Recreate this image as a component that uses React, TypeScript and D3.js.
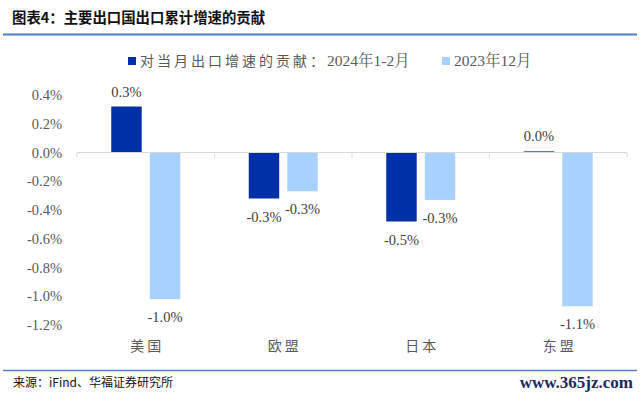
import React, { useEffect, useRef } from 'react'
import * as d3 from 'd3'

const categories = ['美国', '欧盟', '日本', '东盟']
const seriesCjk = ['对当月出口增速的贡献：', '']
const seriesRest = ['2024年1-2月', '2023年12月']
const janFeb2024 = [0.32, -0.32, -0.48, 0.008]
const dec2023 = [-1.02, -0.27, -0.33, -1.07]
const yTicks = [0.4, 0.2, 0.0, -0.2, -0.4, -0.6, -0.8, -1.0, -1.2]
const colors = ['#0030A8', '#A9D1FF']

const W = 640
const H = 396
const serif = '"Liberation Serif", "Noto Serif CJK SC", "Noto Sans CJK SC", serif'
const cjk = '"Noto Sans CJK SC", sans-serif'

const pct = (v: number) => d3.format('.1%')(v / 100).replace('−', '-')

const App: React.FC = () => {
    const svgRef = useRef<SVGSVGElement>(null)

    useEffect(() => {
        if (!svgRef.current) return
        const svg = d3.select(svgRef.current)
        svg.selectAll('*').remove()

        svg.append('rect').attr('width', W).attr('height', H).attr('fill', '#fff')

        // header
        svg.append('text')
            .attr('x', 12).attr('y', 23)
            .style('font-family', cjk).style('font-size', '14.4px').style('font-weight', 'bold')
            .style('fill', '#111')
            .text('图表4：主要出口国出口累计增速的贡献')
        svg.append('line').attr('x1', 3).attr('x2', 637).attr('y1', 34.5).attr('y2', 34.5)
            .attr('stroke', '#4F7CC2').attr('stroke-width', 2)

        const y = d3.scaleLinear().domain([-1.2, 0.4]).range([325, 95])
        const x0 = d3.scaleBand<string>().domain(categories).range([77, 627])
        const groupW = 69
        const x1 = d3.scaleBand<number>().domain([0, 1]).range([0, groupW]).paddingInner(0.21)
        const off = (x0.bandwidth() - groupW) / 2

        // y tick labels
        svg.append('g').selectAll('text')
            .data(yTicks).enter().append('text')
            .attr('x', 62).attr('y', d => y(d))
            .attr('dy', '0.35em')
            .style('text-anchor', 'end')
            .style('font-family', serif).style('font-size', '14.5px').style('fill', '#595959')
            .text(d => pct(d))

        const series = [janFeb2024, dec2023]
        series.forEach((vals, si) => {
            const g = svg.append('g')
            g.selectAll('rect')
                .data(vals).enter().append('rect')
                .attr('x', (d, i) => (x0(categories[i]) as number) + off + (x1(si) as number))
                .attr('width', x1.bandwidth())
                .attr('y', d => y(Math.max(0, d)))
                .attr('height', d => Math.abs(y(d) - y(0)))
                .attr('fill', colors[si])
            g.selectAll('text')
                .data(vals).enter().append('text')
                .attr('x', (d, i) => (x0(categories[i]) as number) + off + (x1(si) as number) + x1.bandwidth() / 2)
                .attr('y', d => d >= 0 ? y(d) - 10 : y(d) + 23)
                .style('text-anchor', 'middle')
                .style('font-family', serif).style('font-size', '14.5px').style('fill', '#404040')
                .text(d => pct(d))
        })

        // zero axis with category ticks
        svg.append('line').attr('x1', 77).attr('x2', 627).attr('y1', y(0)).attr('y2', y(0))
            .attr('stroke', '#D9D9D9').attr('stroke-width', 1)
        const bounds = categories.map(c => x0(c) as number).concat([627])
        svg.append('g').selectAll('line')
            .data(bounds).enter().append('line')
            .attr('x1', d => d).attr('x2', d => d)
            .attr('y1', y(0)).attr('y2', y(0) + 5)
            .attr('stroke', '#D9D9D9')

        // category labels
        svg.append('g').selectAll('text')
            .data(categories).enter().append('text')
            .attr('x', d => (x0(d) as number) + x0.bandwidth() / 2 + 1.5)
            .attr('y', 346).attr('dy', '0.35em')
            .style('text-anchor', 'middle')
            .style('font-family', cjk).style('font-size', '14px').style('letter-spacing', '3px')
            .style('fill', '#595959')
            .text(d => d)

        // legend
        const legendX = [128, 442]
        seriesRest.forEach((name, i) => {
            svg.append('rect').attr('x', legendX[i]).attr('y', 57).attr('width', 8).attr('height', 8)
                .attr('fill', colors[i])
            const t = svg.append('text').attr('x', legendX[i] + 12).attr('y', 61).attr('dy', '0.35em')
                .style('font-family', serif).style('font-size', '15.5px').style('fill', '#595959')
            if (seriesCjk[i]) {
                t.append('tspan').style('font-family', cjk).style('font-size', '14px')
                    .style('letter-spacing', '3px').text(seriesCjk[i])
            }
            t.append('tspan').text(name)
        })

        // footer
        svg.append('line').attr('x1', 3).attr('x2', 637).attr('y1', 370.5).attr('y2', 370.5)
            .attr('stroke', '#4F7CC2').attr('stroke-width', 1.5)
        svg.append('text').attr('x', 13).attr('y', 383).attr('dy', '0.35em')
            .style('font-family', cjk).style('font-size', '12px').style('fill', '#111')
            .text('来源：iFind、华福证券研究所')
        svg.append('text').attr('x', 633).attr('y', 382).attr('dy', '0.35em')
            .style('text-anchor', 'end')
            .style('font-family', serif).style('font-size', '17px').style('font-weight', 'bold')
            .style('fill', '#1B2A5E')
            .text('www.365jz.com')
    }, [])

    return (
        <div style={{ position: 'absolute', left: 0, top: 0 }}>
            <svg ref={svgRef} width={W} height={H} style={{ display: 'block' }} />
        </div>
    )
}

export default App
